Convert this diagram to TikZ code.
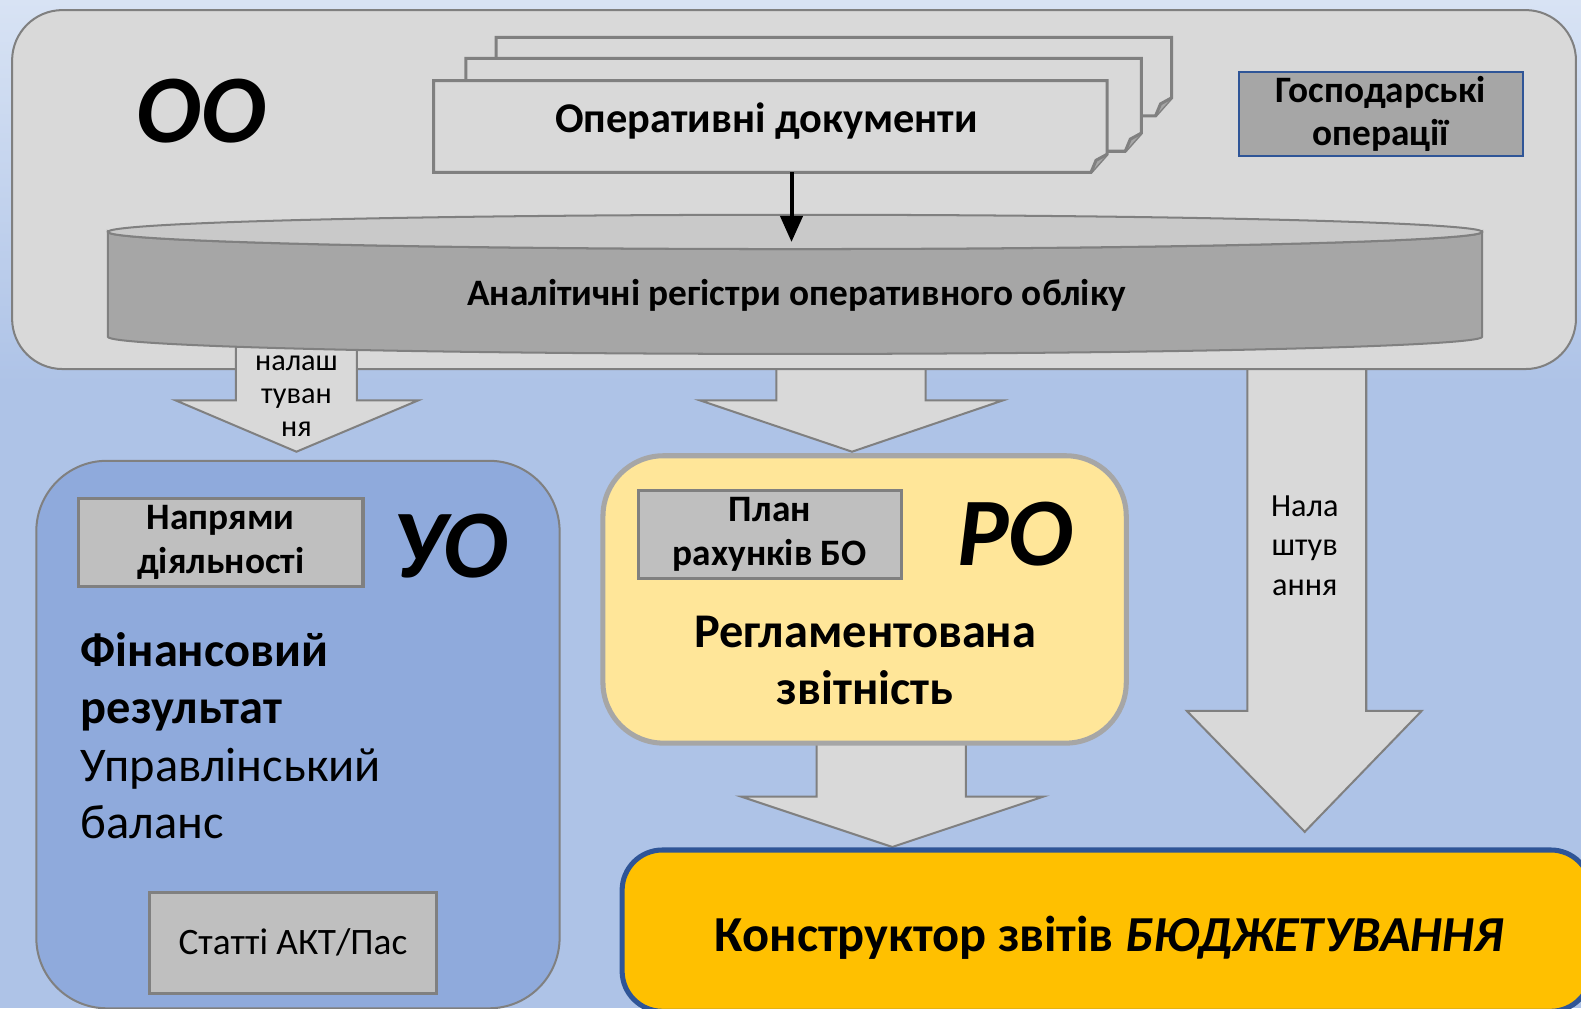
\documentclass[tikz,border=0pt]{standalone}
\usepackage{fontspec}
\setmainfont{Carlito}
\usetikzlibrary{arrows.meta,positioning}
\definecolor{bgtop}{RGB}{216,227,244}
\definecolor{bgbot}{RGB}{174,195,231}
\definecolor{panelgray}{RGB}{217,217,217}
\definecolor{edgegray}{RGB}{128,128,128}
\definecolor{regdark}{RGB}{166,166,166}
\definecolor{reglight}{RGB}{201,201,201}
\definecolor{taggray}{RGB}{191,191,191}
\definecolor{uoblue}{RGB}{143,170,220}
\definecolor{royellow}{RGB}{255,230,153}
\definecolor{kgold}{RGB}{255,192,0}
\definecolor{kblue}{RGB}{47,85,151}
\tikzset{
  panel/.style={draw=edgegray, fill=panelgray, line width=1pt, inner sep=0pt},
  docsheet/.style={draw=edgegray, fill=panelgray, line width=1.5pt},
  tagbox/.style={draw=edgegray, fill=taggray, line width=1.5pt, inner sep=0pt, align=center,
    font=\bfseries\fontsize{18.5}{21.5}\selectfont},
  bigmark/.style={font=\bfseries\itshape\fontsize{48}{48}\selectfont},
  blockarrow/.style={draw=edgegray, fill=panelgray, line width=1pt},
  setuptext/.style={align=center, font=\fontsize{15}{16.5}\selectfont},
  feed/.style={line width=2pt, -{Triangle[width=11pt,length=13pt]}},
}
\newcommand\docsheetpath[4]{(#1,#2) -- (#3,#2) -- (#3,#4-18) -- (#3-16,#4) -- (#1,#4) -- cycle}
\newcommand\docfold[2]{(#1-16,#2) -- (#1-11,#2-12) -- (#1,#2-18)}
\begin{document}
\begin{tikzpicture}[x=0.5pt,y=-0.5pt]
  \useasboundingbox (0,0) rectangle (1568,1000);
  \fill[bgbot] (0,0) rectangle (1568,1000);
  \shade[top color=bgtop, bottom color=bgbot] (0,0) rectangle (1568,380);

  \draw[blockarrow] (770,340) -- (770,397) -- (694,397) -- (845,448) -- (995,397) -- (918,397) -- (918,340) -- cycle;
  \draw[blockarrow] (1237,340) -- (1237,705) -- (1177,705) -- (1294,825) -- (1410,705) -- (1355,705) -- (1355,340) -- cycle;
  \draw[blockarrow] (810,720) -- (810,790) -- (735,790) -- (885,840) -- (1035,790) -- (958,790) -- (958,720) -- cycle;

  \node[panel, rounded corners=25pt, minimum width=775.5pt, minimum height=178pt] (oo) at (787.5,188) {};
  \node[bigmark] (oomark) at (200,110) {ОО};

  \draw[blockarrow] (234,330) -- (234,397) -- (174,397) -- (294,448) -- (415,397) -- (354,397) -- (354,330) -- cycle;
  \node[setuptext] (setleft) at (294,393) {налаш\\туван\\ня};

  \draw[docsheet] \docsheetpath{492}{37}{1162}{115};
  \draw[docsheet, fill=regdark] \docfold{1162}{115};
  \draw[docsheet] \docsheetpath{462}{58}{1132}{150};
  \draw[docsheet, fill=regdark] \docfold{1132}{150};
  \draw[docsheet] \docsheetpath{430}{80}{1098}{171};
  \draw[docsheet, fill=regdark] \docfold{1098}{171};
  \node[font=\bfseries\fontsize{21}{25}\selectfont] (docs) at (760,120) {Оперативні документи};
  \coordinate (docbot) at (785,171);

  \node[tagbox, draw=kblue, fill=regdark, line width=1pt, minimum width=140.5pt, minimum height=42pt] (ops) at (1369.5,113) {Господарські\\операції};

  \draw[draw=edgegray, fill=regdark, line width=1pt] (107,230) -- (107,334)
    arc[start angle=180, end angle=360, x radius=340.75pt, y radius=8.5pt] -- (1470,230)
    arc[start angle=360, end angle=180, x radius=340.75pt, y radius=8.5pt] -- cycle;
  \draw[draw=edgegray, fill=reglight, line width=1pt] (788.5,230) ellipse[x radius=340.75pt, y radius=8.5pt];
  \node[font=\bfseries\fontsize{18.5}{22}\selectfont] (reg) at (790,293) {Аналітичні регістри оперативного обліку};
  \coordinate (regtop) at (785,240);
  \draw[feed] (docbot) -- (regtop);

  \node[panel, fill=uoblue, rounded corners=35pt, minimum width=259.5pt, minimum height=271.5pt] (uo) at (295.5,728.5) {};
  \node[tagbox, minimum width=141pt, minimum height=44pt] (dirs) at (219,538) {Напрями\\діяльності};
  \node[bigmark] (uomark) at (447,542) {УО};
  \node[anchor=north west, align=left, font=\fontsize{24}{28.5}\selectfont] (fin) at (73,620)
    {\textbf{Фінансовий}\\\textbf{результат}\\Управлінський\\баланс};
  \node[tagbox, font=\fontsize{18.5}{22}\selectfont, minimum width=142.5pt, minimum height=50pt] (items) at (290.5,935) {Статті АКТ/Пас};

  \node[panel, fill=royellow, draw=regdark, line width=2.5pt, rounded corners=30pt, minimum width=259.5pt, minimum height=142.5pt] (ro) at (857.5,594.5) {};
  \node[tagbox, minimum width=130.5pt, minimum height=43.5pt] (chart) at (763.5,530) {План\\рахунків БО};
  \node[bigmark] (romark) at (1007,530) {РО};
  \node[align=center, font=\bfseries\fontsize{24}{28.5}\selectfont] (reports) at (858,655) {Регламентована\\звітність};

  \node[setuptext, font=\fontsize{16}{19.5}\selectfont] (setright) at (1294,541) {Нала\\штув\\ання};

  \node[panel, fill=kgold, draw=kblue, line width=2.5pt, rounded corners=20pt, minimum width=480.5pt, minimum height=80pt] (budget) at (1097.5,923) {};
  \node[font=\bfseries\fontsize{25}{29}\selectfont] (budgettext) at (1100,930) {Конструктор звітів \textit{БЮДЖЕТУВАННЯ}};
\end{tikzpicture}
\end{document}
